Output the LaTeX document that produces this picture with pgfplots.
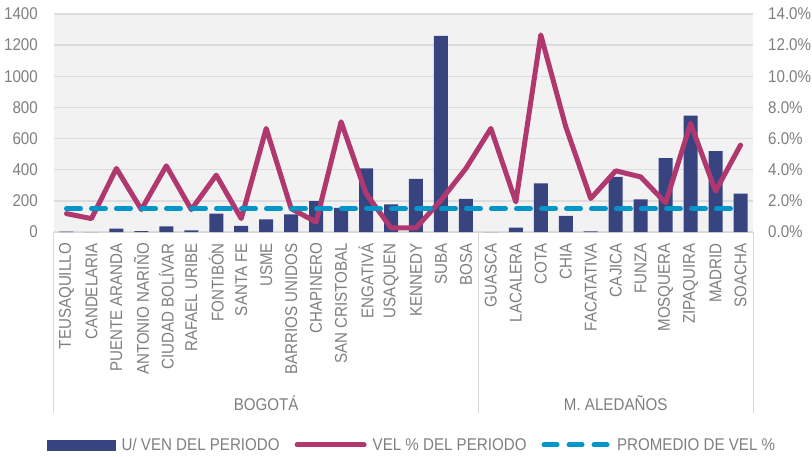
\documentclass[border=0pt]{standalone}
\usepackage{fontspec}
\setmainfont{Liberation Sans}[FakeStretch=0.89]
\usepackage{pgfplots}
\usetikzlibrary{calc}
\pgfplotsset{compat=1.18}
\definecolor{barblue}{HTML}{38447F}
\definecolor{magline}{HTML}{B0386F}
\definecolor{avgblue}{HTML}{0096C8}
\definecolor{txtgray}{HTML}{7F7F7F}
\definecolor{bggray}{HTML}{F2F2F2}
\definecolor{gridgray}{HTML}{DCDCDC}
\definecolor{axgray}{HTML}{D9D9D9}
\newcommand{\ff}{\fontsize{17}{20}\selectfont}
\begin{document}
\begin{tikzpicture}[x=1pt,y=1pt]
\begin{axis}[
  at={(54pt,224pt)}, anchor=south west,
  scale only axis, width=699pt, height=218pt,
  xmin=-0.5, xmax=27.5, ymin=0, ymax=1400,
  ytick={0,200,...,1400},
  xtick={0,...,27},
  xticklabels={TEUSAQUILLO,CANDELARIA,PUENTE ARANDA,ANTONIO NARIÑO,CIUDAD BOLÍVAR,RAFAEL URIBE,FONTIBÓN,SANTA FE,USME,BARRIOS UNIDOS,CHAPINERO,SAN CRISTOBAL,ENGATIVÁ,USAQUEN,KENNEDY,SUBA,BOSA,GUASCA,LACALERA,COTA,CHIA,FACATATIVA,CAJICA,FUNZA,MOSQUERA,ZIPAQUIRA,MADRID,SOACHA},
  xticklabel style={rotate=90, anchor=east, font=\ff, text=txtgray, inner xsep=0pt, inner ysep=0pt, xshift=0pt},
  yticklabel style={font=\ff, text=txtgray, anchor=east, inner sep=0pt, xshift=-16pt},
  /pgf/number format/assume math mode=true,
  /pgf/number format/1000 sep={},
  major tick length=0pt,
  axis x line*=bottom, axis y line*=left,
  x axis line style={draw=axgray, line width=1pt, -},
  y axis line style={draw=none},
  ymajorgrids, grid style={draw=gridgray, line width=1.3pt},
  axis background/.style={fill=bggray},
  clip=false,
  xticklabel shift=11pt,
]
\addplot[ybar, bar width=14pt, fill=barblue, draw=none] coordinates {
(0,2) (1,0) (2,21) (3,6) (4,36) (5,11) (6,118) (7,39) (8,81) (9,114)
(10,198) (11,155) (12,409) (13,178) (14,341) (15,1260) (16,212)
(17,0) (18,28) (19,313) (20,103) (21,4) (22,354) (23,210) (24,474)
(25,748) (26,519) (27,246)};
\draw[axgray, line width=1pt] (axis cs:-0.5,0) -- ++(0pt,-181pt);
\draw[axgray, line width=1pt] (axis cs:16.5,0) -- ++(0pt,-181pt);
\draw[axgray, line width=1pt] (axis cs:27.5,0) -- ++(0pt,-181pt);
\node[font=\ff, text=txtgray] at ($(axis cs:8,0)+(0pt,-171pt)$) {BOGOTÁ};
\node[font=\ff, text=txtgray] at ($(axis cs:22,0)+(0pt,-171pt)$) {M. ALEDAÑOS};
\end{axis}
\begin{axis}[
  at={(54pt,224pt)}, anchor=south west,
  scale only axis, width=699pt, height=218pt,
  xmin=-0.5, xmax=27.5, ymin=0, ymax=14,
  ytick={0,2,...,14},
  axis x line=none, axis y line*=right,
  y axis line style={draw=none},
  major tick length=0pt,
  /pgf/number format/assume math mode=true,
  yticklabel={\pgfmathprintnumber[fixed,fixed zerofill,precision=1]{\tick}\%},
  yticklabel style={font=\ff, text=txtgray, anchor=west, inner sep=0pt, xshift=15pt},
  clip=false,
  legend columns=3,
  legend style={at={(-0.010,-0.977)}, anchor=west, draw=none, fill=none, inner sep=0pt,
    font=\ff, text=txtgray, nodes={inner sep=0pt},
    /tikz/every odd column/.append style={column sep=6pt},
    /tikz/every even column/.append style={column sep=15pt}},
]
\addlegendimage{legend image code/.code={\fill[barblue] (0pt,-5pt) rectangle (68pt,5pt);}}
\addlegendentry{U/ VEN DEL PERIODO}
\addplot[color=magline, line width=5pt, line join=round, line cap=round,
  legend image code/.code={\draw[magline, line width=5pt, line cap=round] (2.5pt,0pt) -- (69.5pt,0pt);}] coordinates {
(0,1.18) (1,0.86) (2,4.08) (3,1.44) (4,4.25) (5,1.44) (6,3.65) (7,0.86) (8,6.65) (9,1.5)
(10,0.64) (11,7.08) (12,2.47) (13,0.26) (14,0.26) (15,2.04) (16,4.08)
(17,6.65) (18,1.93) (19,12.66) (20,6.76) (21,2.15) (22,3.93) (23,3.54) (24,1.87)
(25,6.97) (26,2.62) (27,5.58)};
\addlegendentry{VEL \% DEL PERIODO}
\addplot[color=avgblue, line width=5pt, line cap=round, dash pattern=on 14pt off 11pt,
  legend image code/.code={\draw[avgblue, line width=5pt, line cap=round, dash pattern=on 13pt off 12pt] (2.5pt,0pt) -- (67pt,0pt);}] coordinates {(0,1.5) (27,1.5)};
\addlegendentry{PROMEDIO DE VEL \%}
\end{axis}
\pgfresetboundingbox
\path[use as bounding box] (0,0) rectangle (812pt,456pt);
\end{tikzpicture}
\end{document}
